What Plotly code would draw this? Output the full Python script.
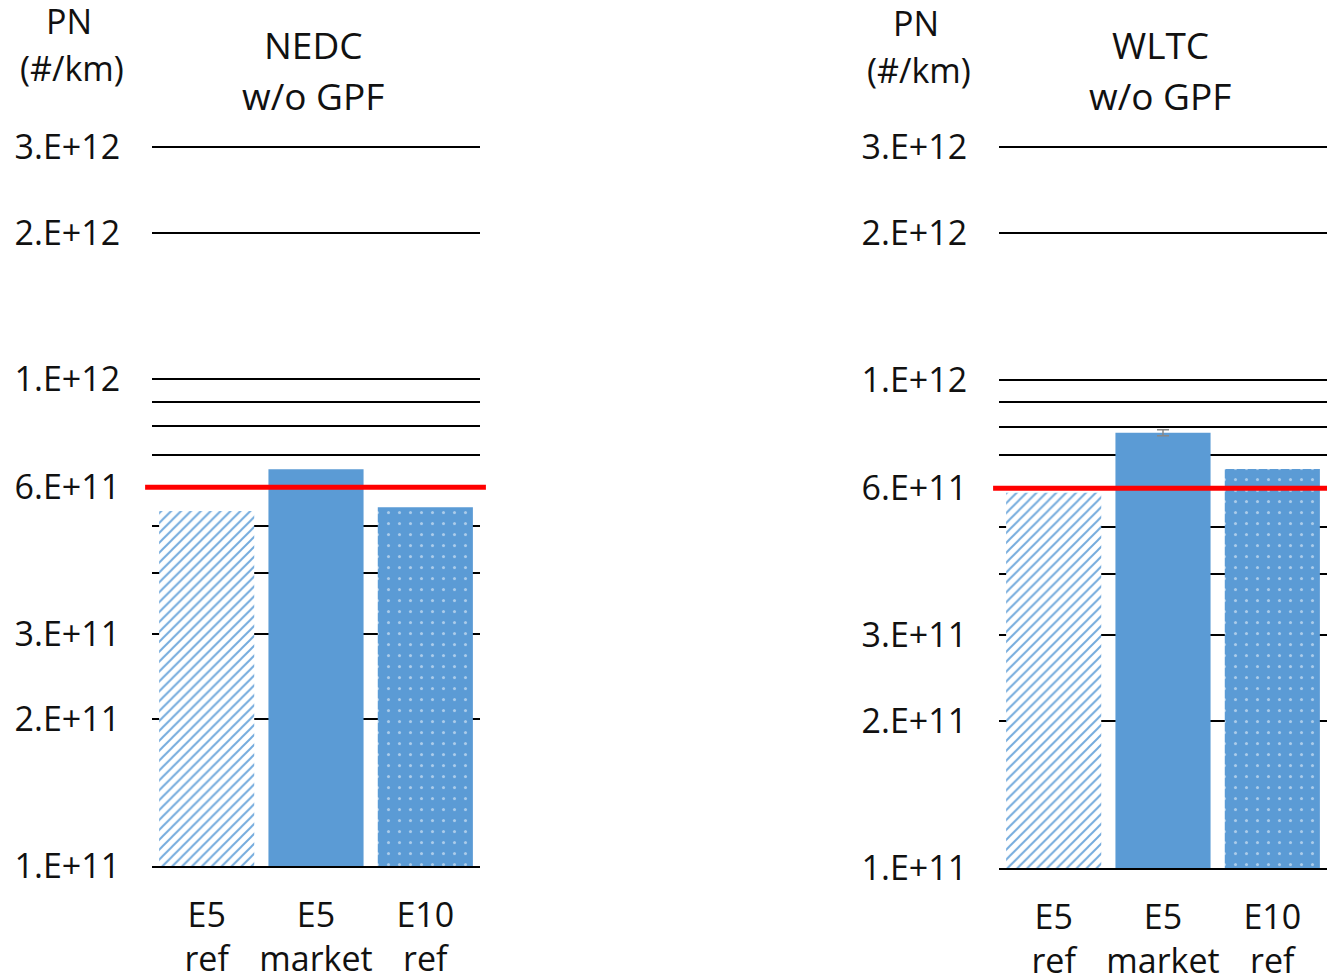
import plotly.graph_objects as go

categories = ["E5<br>ref", "E5<br>market", "E10<br>ref"]
nedc_values = [5.36e11, 6.53e11, 5.46e11]
wltc_values = [5.87e11, 7.79e11, 6.57e11]
wltc_errors = [0, 1.1e10, 0]
limit_value = 6e11
tick_vals = [1e11, 2e11, 3e11, 6e11, 1e12, 2e12, 3e12]
tick_text = ["1.E+11", "2.E+11", "3.E+11", "6.E+11", "1.E+12", "2.E+12", "3.E+12"]
minor_grid_vals = [4e11, 5e11, 7e11, 8e11, 9e11]
panel_titles = [["NEDC", "w/o GPF"], ["WLTC", "w/o GPF"]]
axis_title = ["PN", "(#/km)"]

BLUE = "#5B9BD5"
FONT = "Open Sans"
TXT = "#111111"
FS = 34
FS_T = 37

W, H = 1327, 980

fig = go.Figure()


def add_panel(values, errors, xa, ya):
    for i, (cat, v) in enumerate(zip(categories, values)):
        if i == 0:
            marker = dict(color=BLUE, line=dict(width=0),
                          pattern=dict(shape="/", fillmode="replace", fgcolor="#74abdd",
                                       bgcolor="white", size=7, solidity=0.28))
        elif i == 1:
            marker = dict(color=BLUE, line=dict(width=0))
        else:
            marker = dict(color=BLUE, line=dict(width=0),
                          pattern=dict(shape=".", fillmode="overlay", fgcolor="white",
                                       size=11, solidity=0.06))
        err = None
        if errors is not None and errors[i]:
            err = dict(type="data", array=[errors[i]], color="#888888",
                       thickness=1.5, width=6, visible=True)
        fig.add_trace(go.Bar(x=[cat], y=[v], marker=marker, error_y=err,
                             width=0.87, xaxis=xa, yaxis=ya, showlegend=False,
                             hoverinfo="skip"))


add_panel(nedc_values, None, "x", "y")
add_panel(wltc_values, wltc_errors, "x2", "y2")

eps = 0.006
yrange = [11, 12.4771 + eps]


def px_x(x):
    return x / W


def px_y(y):
    return 1 - y / H


def ydomain(bottom_px, top_px):
    ppd = (bottom_px - top_px) / 1.4771
    top = top_px - eps * ppd
    return [px_y(bottom_px), px_y(top)]


def yaxis(domain, anchor):
    return dict(type="log", range=yrange, domain=domain, anchor=anchor,
                tickvals=tick_vals, ticktext=tick_text,
                showgrid=True, gridcolor="black", gridwidth=2,
                ticks="outside", ticklen=24, tickcolor="rgba(0,0,0,0)",
                tickfont=dict(family=FONT, size=FS, color=TXT),
                showline=False, zeroline=False, automargin=False,
                minor=dict(tickvals=minor_grid_vals, showgrid=True,
                           gridcolor="black", gridwidth=2, ticks=""))


def xaxis(domain, anchor):
    return dict(domain=domain, anchor=anchor, showgrid=False,
                showline=True, linecolor="black", linewidth=2,
                ticks="outside", ticklen=18, tickcolor="rgba(0,0,0,0)",
                tickfont=dict(family=FONT, size=FS, color=TXT),
                categoryorder="array", categoryarray=categories,
                range=[-0.5, 2.5], automargin=False)


fig.update_layout(
    width=W, height=H, margin=dict(l=0, r=0, t=0, b=0, autoexpand=False),
    paper_bgcolor="white", plot_bgcolor="white",
    barmode="overlay",
    xaxis=xaxis([px_x(152), px_x(480)], "y"),
    yaxis=yaxis(ydomain(866, 147), "x"),
    xaxis2=xaxis([px_x(999), 1.0], "y2"),
    yaxis2=yaxis(ydomain(868, 147), "x2"),
)

# red limit lines
fig.add_shape(type="line", xref="x domain", yref="y", x0=-0.021, x1=1.018,
              y0=limit_value, y1=limit_value, line=dict(color="red", width=5), layer="above")
fig.add_shape(type="line", xref="x2 domain", yref="y2", x0=-0.018, x1=1.0,
              y0=limit_value, y1=limit_value, line=dict(color="red", width=5), layer="above")


# titles
def txt(x, y, s, size):
    fig.add_annotation(x=px_x(x), y=px_y(y), xref="paper", yref="paper", text=s,
                       showarrow=False, xanchor="center", yanchor="middle",
                       font=dict(family=FONT, size=size, color=TXT))


txt(69, 21, axis_title[0], FS); txt(72, 68, axis_title[1], FS)
txt(313, 45, panel_titles[0][0], FS_T); txt(313, 96, panel_titles[0][1], FS_T)
txt(916, 23, axis_title[0], FS); txt(919, 70, axis_title[1], FS)
txt(1160, 45, panel_titles[1][0], FS_T); txt(1160, 96, panel_titles[1][1], FS_T)

fig.write_html("out.html",
               config={"displayModeBar": False},
               post_script="document.body.style.margin='0';"
                           "document.body.style.overflow='hidden';")
